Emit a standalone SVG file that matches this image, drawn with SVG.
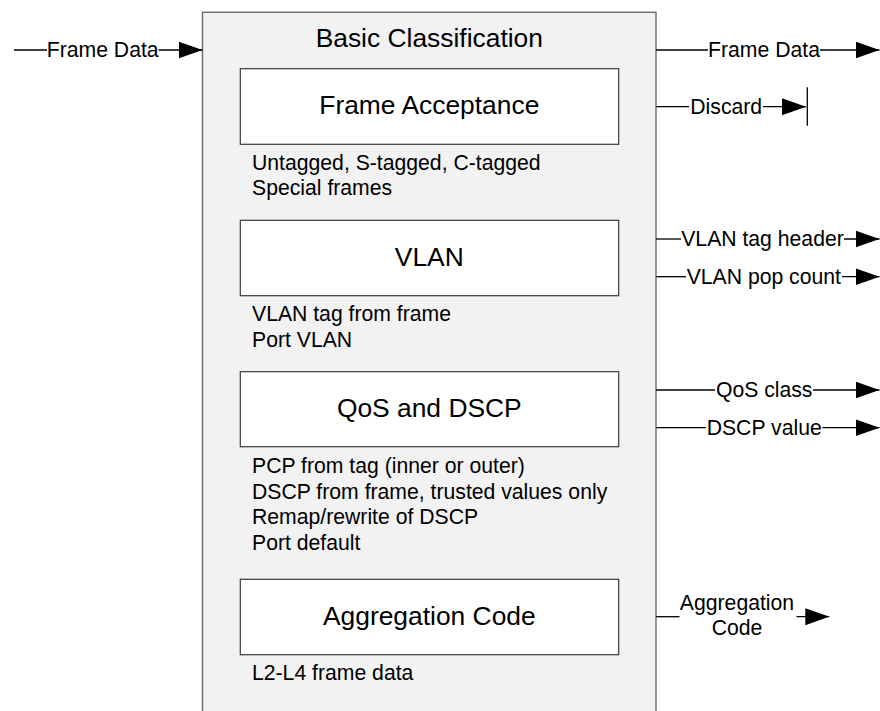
<svg xmlns="http://www.w3.org/2000/svg" width="880" height="711" viewBox="0 0 880 711">
<style>
.outer{fill:#f2f2f2;stroke:#6b6b6b;stroke-width:1.4}
.box{fill:#ffffff;stroke:#3a3a3a;stroke-width:1.2}
.big{font-family:"Liberation Sans",Arial,sans-serif;font-size:26.4px;fill:#000;text-anchor:middle}
.sub{font-family:"Liberation Sans",Arial,sans-serif;font-size:21.2px;fill:#000}
.lbl{font-family:"Liberation Sans",Arial,sans-serif;font-size:21.2px;fill:#000;text-anchor:middle}
.wire{fill:none;stroke:#000;stroke-width:1.3}
</style>
<defs>
<marker id="ah" markerWidth="24" markerHeight="18" refX="24" refY="9" orient="auto" markerUnits="userSpaceOnUse">
<path d="M0,0.5 L24,9 L0,17.5 z" fill="#000"/>
</marker>
</defs>
<g id="basic-classification">
<rect class="outer" x="202.5" y="12.3" width="453.5" height="720"/>
<text class="big" x="429.3" y="46.7">Basic Classification</text>
</g>
<g id="frame-acceptance">
<rect class="box" x="240.3" y="68.7" width="378.4" height="75.6"/>
<text class="big" x="429.3" y="114.3">Frame Acceptance</text>
<text class="sub" x="252" y="169.5">Untagged, S-tagged, C-tagged</text>
<text class="sub" x="252" y="195">Special frames</text>
</g>
<g id="vlan">
<rect class="box" x="240.3" y="220.3" width="378.4" height="75.4"/>
<text class="big" x="429.3" y="266">VLAN</text>
<text class="sub" x="252" y="321">VLAN tag from frame</text>
<text class="sub" x="252" y="346.5">Port VLAN</text>
</g>
<g id="qos-dscp">
<rect class="box" x="240.3" y="371.7" width="378.4" height="75"/>
<text class="big" x="429.3" y="417">QoS and DSCP</text>
<text class="sub" x="252" y="473">PCP from tag (inner or outer)</text>
<text class="sub" x="252" y="498.5">DSCP from frame, trusted values only</text>
<text class="sub" x="252" y="524">Remap/rewrite of DSCP</text>
<text class="sub" x="252" y="549.5">Port default</text>
</g>
<g id="aggregation-code">
<rect class="box" x="240.3" y="579.3" width="378.4" height="75.4"/>
<text class="big" x="429.3" y="624.5">Aggregation Code</text>
<text class="sub" x="252" y="680">L2-L4 frame data</text>
</g>
<g id="connectors">
<path class="wire" d="M14,50 H47"/>
<path class="wire" d="M158.5,50 H202.5" marker-end="url(#ah)"/>
<text class="lbl" x="102.7" y="57">Frame Data</text>

<path class="wire" d="M656,50 H708"/>
<path class="wire" d="M820,50 H879.5" marker-end="url(#ah)"/>
<text class="lbl" x="764" y="57">Frame Data</text>

<path class="wire" d="M656,106.7 H689"/>
<path class="wire" d="M763,106.7 H806" marker-end="url(#ah)"/>
<path class="wire" d="M807.3,87.3 V125.7"/>
<text class="lbl" x="726.2" y="113.7">Discard</text>

<path class="wire" d="M656,239 H681"/>
<path class="wire" d="M844,239 H879.5" marker-end="url(#ah)"/>
<text class="lbl" x="762.5" y="246">VLAN tag header</text>

<path class="wire" d="M656,276.7 H686"/>
<path class="wire" d="M842,276.7 H879.5" marker-end="url(#ah)"/>
<text class="lbl" x="763.8" y="283.7">VLAN pop count</text>

<path class="wire" d="M656,390 H715"/>
<path class="wire" d="M813,390 H879.5" marker-end="url(#ah)"/>
<text class="lbl" x="764.2" y="397">QoS class</text>

<path class="wire" d="M656,427.7 H706"/>
<path class="wire" d="M822.5,427.7 H879.5" marker-end="url(#ah)"/>
<text class="lbl" x="764.2" y="434.7">DSCP value</text>

<path class="wire" d="M656,616.7 H679.5"/>
<path class="wire" d="M796.5,616.7 H829.3" marker-end="url(#ah)"/>
<text class="lbl" x="737" y="610">Aggregation</text>
<text class="lbl" x="737" y="635">Code</text>
</g>
</svg>
